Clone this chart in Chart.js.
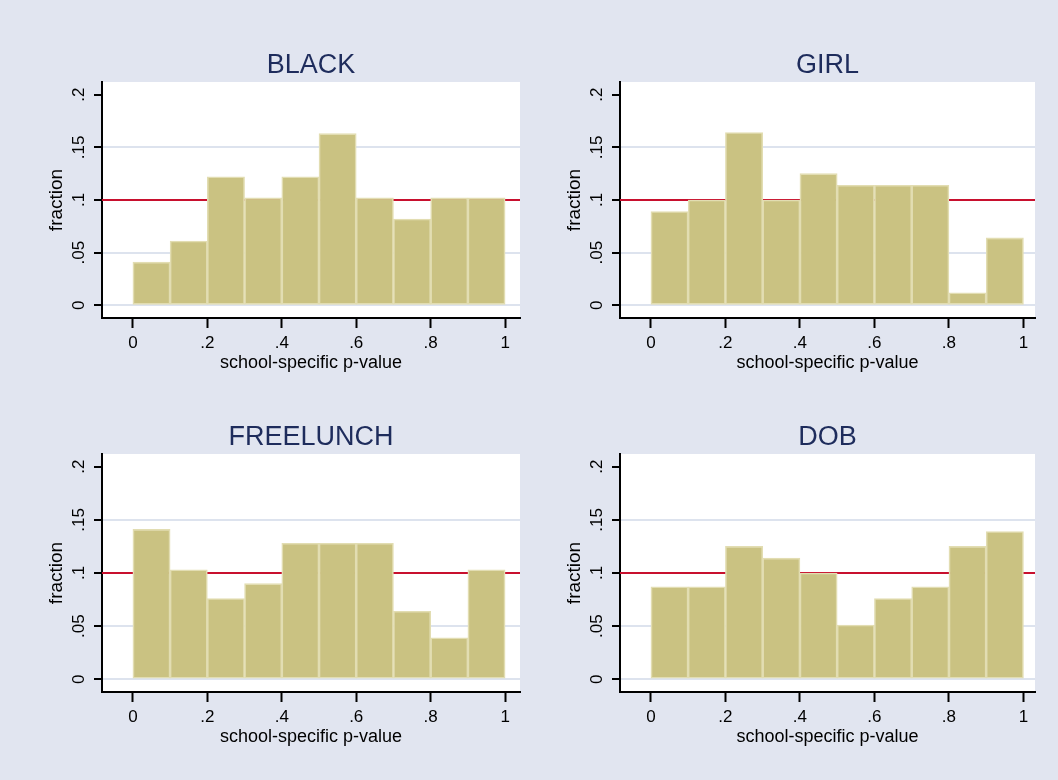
<!DOCTYPE html>
<html>
<head>
<meta charset="utf-8">
<title>school-specific p-value histograms</title>
<script src="https://cdn.jsdelivr.net/npm/chart.js@4.4.1/dist/chart.umd.min.js"></script>
<style>
  html, body { margin: 0; padding: 0; background: #e1e5f0; }
  #wrap { position: relative; width: 1058px; height: 780px; overflow: hidden; }
  #wrap canvas { position: absolute; }
</style>
</head>
<body>
<div id="wrap">
  <canvas id="black" width="514" height="366" style="left:10px;top:10px"></canvas>
  <canvas id="girl" width="511" height="366" style="left:528px;top:10px"></canvas>
  <canvas id="freelunch" width="514" height="368" style="left:10px;top:382px"></canvas>
  <canvas id="dob" width="511" height="368" style="left:528px;top:382px"></canvas>
</div>
<script>
// histogram bins (width .1) and the share of schools falling in each
const binMids = [0.05, 0.15, 0.25, 0.35, 0.45, 0.55, 0.65, 0.75, 0.85, 0.95];
const blackFrac = [0.041, 0.061, 0.122, 0.102, 0.122, 0.163, 0.102, 0.082, 0.102, 0.102];
const girlFrac = [0.089, 0.100, 0.164, 0.100, 0.125, 0.114, 0.114, 0.114, 0.012, 0.064];
const freelunchFrac = [0.141, 0.103, 0.076, 0.090, 0.128, 0.128, 0.128, 0.064, 0.039, 0.103];
const dobFrac = [0.087, 0.087, 0.125, 0.114, 0.100, 0.051, 0.076, 0.087, 0.125, 0.139];

const refLine = 0.1;
const xTicks = [0, 0.2, 0.4, 0.6, 0.8, 1];
const xTickLabels = ['0', '.2', '.4', '.6', '.8', '1'];
const yTicks = [0, 0.05, 0.1, 0.15, 0.2];
const yTickLabels = ['0', '.05', '.1', '.15', '.2'];

const FONT = '"Liberation Sans", Arial, sans-serif';
const BAR_FILL = '#cac282';
const BAR_EDGE = '#e2ddb2';
const GRID = '#dde3ee';
const RED = '#c8102e';
const NAVY = '#1e2c5c';

// white plot region, reference line, rotated y labels and panel title
const stataLook = {
  id: 'stataLook',
  beforeDraw(chart) {
    const { ctx, chartArea: a } = chart;
    ctx.save();
    ctx.fillStyle = '#ffffff';
    ctx.fillRect(a.left, a.top, a.right - a.left, a.bottom - a.top);
    ctx.restore();
  },
  beforeDatasetsDraw(chart) {
    const { ctx, chartArea: a, scales: { y } } = chart;
    const py = y.getPixelForValue(refLine);
    ctx.save();
    ctx.strokeStyle = RED;
    ctx.lineWidth = 2;
    ctx.beginPath();
    ctx.moveTo(a.left, py);
    ctx.lineTo(a.right, py);
    ctx.stroke();
    ctx.restore();
  },
  afterDraw(chart, args, opts) {
    const { ctx, chartArea: a, scales: { y } } = chart;
    ctx.save();
    ctx.fillStyle = '#000';
    ctx.font = '17px ' + FONT;
    ctx.textAlign = 'center';
    ctx.textBaseline = 'middle';
    yTicks.forEach((v, i) => {
      ctx.save();
      ctx.translate(a.left - 23, y.getPixelForValue(v));
      ctx.rotate(-Math.PI / 2);
      ctx.fillText(yTickLabels[i], 0, 0);
      ctx.restore();
    });
    ctx.fillStyle = NAVY;
    ctx.font = '27px ' + FONT;
    ctx.textBaseline = 'alphabetic';
    ctx.fillText(opts.title, (a.left + a.right) / 2, a.top - 9.5);
    ctx.restore();
  }
};

function histPanel(id, title, values, xMax) {
  const ctx = document.getElementById(id).getContext('2d');
  return new Chart(ctx, {
    type: 'bar',
    data: {
      datasets: [{
        data: binMids.map((m, i) => ({ x: m, y: values[i] })),
        backgroundColor: BAR_FILL,
        borderColor: BAR_EDGE,
        borderWidth: 1.6,
        borderSkipped: false,
        barPercentage: 1,
        categoryPercentage: 1
      }]
    },
    options: {
      responsive: false,
      animation: false,
      events: [],
      layout: { padding: { left: 34, top: 72, right: 4, bottom: 0 } },
      plugins: {
        legend: { display: false },
        tooltip: { enabled: false },
        stataLook: { title: title }
      },
      scales: {
        x: {
          type: 'linear',
          min: -0.083,
          max: xMax,
          offset: false,
          afterBuildTicks: s => { s.ticks = xTicks.map(v => ({ value: v })); },
          afterFit: s => { s.height = 58; },
          grid: { offset: false, drawOnChartArea: false, tickLength: 10, tickColor: '#000', tickWidth: 2 },
          border: { color: '#000', width: 2 },
          ticks: {
            color: '#000',
            padding: 5,
            maxRotation: 0,
            autoSkip: false,
            font: { family: FONT, size: 17 },
            callback: (v, i) => xTickLabels[i]
          },
          title: {
            display: true,
            text: 'school-specific p-value',
            color: '#000',
            font: { family: FONT, size: 18 },
            padding: { top: 0, bottom: 2 }
          }
        },
        y: {
          min: -0.012,
          max: 0.212,
          afterBuildTicks: s => { s.ticks = yTicks.map(v => ({ value: v })); },
          afterFit: s => { s.width = 58; },
          grid: {
            color: c => (c.tick && c.tick.value >= 0.2 ? 'rgba(0,0,0,0)' : GRID),
            lineWidth: 2,
            tickLength: 8,
            tickColor: '#000',
            tickWidth: 2
          },
          border: { color: '#000', width: 2 },
          ticks: { display: false },
          title: {
            display: true,
            text: 'fraction',
            color: '#000',
            font: { family: FONT, size: 19 },
            padding: { top: 1, bottom: 0 }
          }
        }
      }
    },
    plugins: [stataLook]
  });
}

histPanel('black', 'BLACK', blackFrac, 1.04);
histPanel('girl', 'GIRL', girlFrac, 1.031);
histPanel('freelunch', 'FREELUNCH', freelunchFrac, 1.04);
histPanel('dob', 'DOB', dobFrac, 1.031);
</script>
</body>
</html>
